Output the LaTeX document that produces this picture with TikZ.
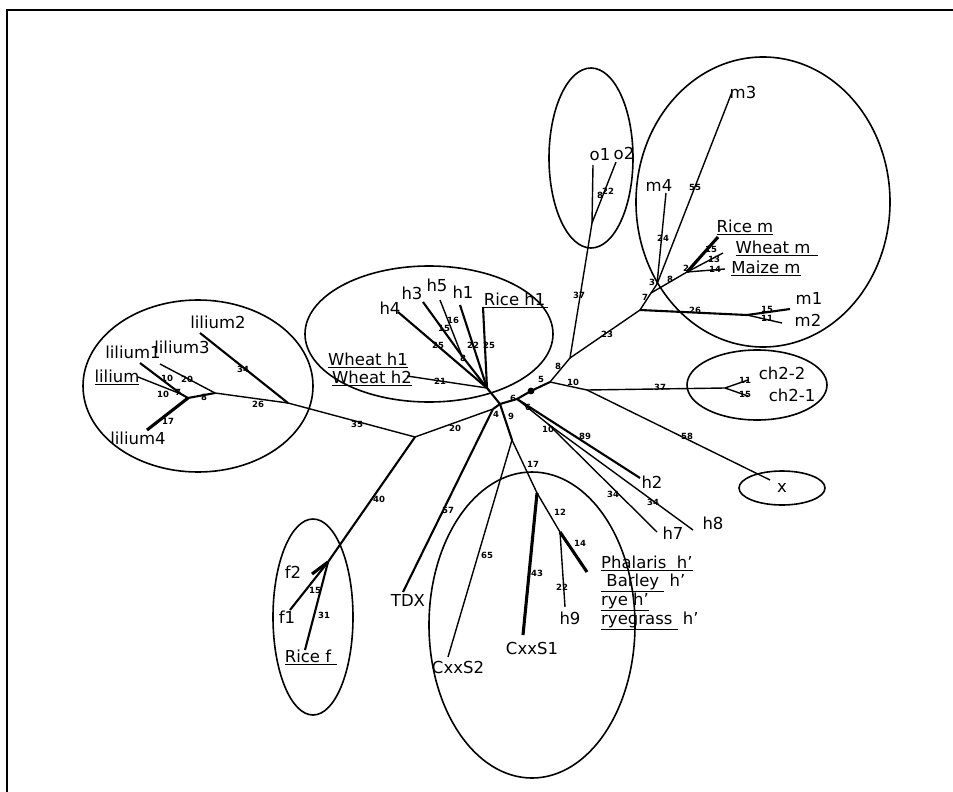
\documentclass[tikz,border=0pt]{standalone}
\usepackage{fontspec}
\setmainfont{DejaVu Sans}
\begin{document}
\begin{tikzpicture}[x=1pt,y=-1pt,
  leaf/.style={font=\fontsize{16.5}{18}\selectfont, inner sep=0pt},
  num/.style={font=\fontsize{8.5}{9}\selectfont\bfseries, inner sep=0pt},
  thin/.style={line width=1.4pt},
  med/.style={line width=2.1pt},
  thk/.style={line width=3.1pt},
  grp/.style={line width=1.6pt}]
\useasboundingbox (0,0) rectangle (953,792);
% frame
\draw[line width=1.5pt] (7,792) -- (7,10) -- (953,10);
% group ellipses
\draw[grp] (198,386) ellipse [x radius=115, y radius=86];
\draw[grp] (429,334) ellipse [x radius=124, y radius=68];
\draw[grp] (591,158) ellipse [x radius=42, y radius=90];
\draw[grp] (763,202) ellipse [x radius=127, y radius=145];
\draw[grp] (757,385) ellipse [x radius=70, y radius=35];
\draw[grp] (782,488) ellipse [x radius=43, y radius=17];
\draw[grp] (532,625) ellipse [x radius=103, y radius=153];
\draw[grp] (313,617) ellipse [x radius=40, y radius=98];
% inner vertices
\coordinate (hA) at (487,388);
\coordinate (hB) at (500,404);
\coordinate (hC) at (493,409);
\coordinate (hD) at (517,399);
\coordinate (hE) at (531,391);
\coordinate (hF) at (550,382);
\coordinate (hG) at (570,358);
\coordinate (chJ) at (587,390);
\coordinate (chK) at (725,388);
\coordinate (oJ) at (592,223);
\coordinate (mR) at (640,310);
\coordinate (m12) at (747,315);
\coordinate (m7) at (651,293);
\coordinate (m34) at (657,284);
\coordinate (mRWM) at (687,272);
\coordinate (h35) at (462,356);
\coordinate (n10) at (548,424);
\coordinate (cx9) at (512,440);
\coordinate (cx17) at (537,493);
\coordinate (cx12) at (560,532);
\coordinate (J) at (415,437);
\coordinate (La) at (288,403);
\coordinate (Lb) at (215,393);
\coordinate (Lc) at (188,398);
\coordinate (Ld) at (181,394);
\coordinate (fN) at (328,562);
% leaf ends
\coordinate (eL2) at (200,333);
\coordinate (eL3) at (160,364);
\coordinate (eL1) at (140,363);
\coordinate (eL) at (138,377);
\coordinate (eL4) at (147,430);
\coordinate (eh4) at (398,312);
\coordinate (eh3) at (423,302);
\coordinate (eh5) at (440,300);
\coordinate (eh1) at (460,305);
\coordinate (eRh1) at (483,307);
\coordinate (eWh) at (407,376);
\coordinate (eo1) at (593,165);
\coordinate (eo2) at (616,162);
\coordinate (em3) at (732,92);
\coordinate (em4) at (666,193);
\coordinate (eRm) at (718,237);
\coordinate (eWm) at (723,253);
\coordinate (eMm) at (725,269);
\coordinate (em1) at (790,309);
\coordinate (em2) at (782,323);
\coordinate (ec22) at (748,380);
\coordinate (ec21) at (748,396);
\coordinate (ex) at (770,480);
\coordinate (eh2) at (640,478);
\coordinate (eh7) at (657,532);
\coordinate (eh8) at (693,530);
\coordinate (eh9) at (565,607);
\coordinate (ePh) at (587,572);
\coordinate (eC1) at (523,635);
\coordinate (eC2) at (448,657);
\coordinate (eTDX) at (403,592);
\coordinate (ef2) at (312,574);
\coordinate (ef1) at (290,610);
\coordinate (eRf) at (305,650);
% hub
\draw[med] (hA) -- (hB);
\draw[med] (hB) -- (hC);
\draw[med] (hB) -- (hD);
\draw[med] (hD) -- (hE);
\draw[med] (hE) -- (hF);
\fill (hE) circle (3.4);
\draw[thin] (hF) -- (chJ);
\draw[thin] (hF) -- (hG);
\draw[thin] (chJ) -- (chK);
\draw[thin] (chJ) -- (ex);
\draw[thin] (chK) -- (ec22);
\draw[thin] (chK) -- (ec21);
% o and m
\draw[thin] (hG) -- (oJ);
\draw[thin] (oJ) -- (eo1);
\draw[thin] (oJ) -- (eo2);
\draw[thin] (hG) -- (mR);
\draw[med] (mR) -- (m12);
\draw[med] (m12) -- (em1);
\draw[thin] (m12) -- (em2);
\draw[thin] (mR) -- (m7);
\draw[thin] (m7) -- (m34);
\draw[thin] (m34) -- (em4);
\draw[thin] (m34) -- (em3);
\draw[thin] (m7) -- (mRWM);
\draw[thk] (mRWM) -- (eRm);
\draw[thin] (mRWM) -- (eWm);
\draw[thin] (mRWM) -- (eMm);
% h cluster
\draw[med] (hA) -- (eh4);
\draw[med] (hA) -- (h35);
\draw[med] (h35) -- (eh3);
\draw[thin] (h35) -- (eh5);
\draw[med] (hA) -- (eh1);
\draw[med] (hA) -- (eRh1);
\draw[thin] (hA) -- (eWh);
% h2 h7 h8
\draw[med] (hD) -- (eh2);
\draw[thin] (hD) -- (n10);
\draw[thin] (n10) -- (eh7);
\draw[thin] (n10) -- (eh8);
% CxxS
\draw[med] (hB) -- (cx9);
\draw[thin] (cx9) -- (eC2);
\draw[thin] (cx9) -- (cx17);
\draw[thk] (cx17) -- (eC1);
\draw[thin] (cx17) -- (cx12);
\draw[thin] (cx12) -- (eh9);
\draw[thk] (cx12) -- (ePh);
% TDX, lilium, f
\draw[med] (hC) -- (eTDX);
\draw[thin] (hC) -- (J);
\draw[thin] (J) -- (La);
\draw[med] (J) -- (fN);
\draw[med] (La) -- (eL2);
\draw[thin] (La) -- (Lb);
\draw[thin] (Lb) -- (eL3);
\draw[med] (Lb) -- (Lc);
\draw[thk] (Lc) -- (eL4);
\draw[med] (Lc) -- (Ld);
\draw[med] (Ld) -- (eL1);
\draw[thin] (Ld) -- (eL);
\draw[thk] (fN) -- (ef2);
\draw[med] (fN) -- (ef1);
\draw[med] (fN) -- (eRf);
% branch numbers
\node[num] (b1) at (258,404) {26};
\node[num] (b2) at (243,369) {34};
\node[num] (b3) at (187,379) {20};
\node[num] (b4) at (204,397) {8};
\node[num] (b5) at (168,421) {17};
\node[num] (b6) at (178,392) {7};
\node[num] (b7) at (167,378) {10};
\node[num] (b8) at (163,394) {10};
\node[num] (b9) at (357,424) {35};
\node[num] (b10) at (455,428) {20};
\node[num] (b11) at (379,499) {40};
\node[num] (b12) at (315,590) {15};
\node[num] (b13) at (324,615) {31};
\node[num] (b14) at (448,510) {57};
\node[num] (b15) at (496,414) {4};
\node[num] (b16) at (511,416) {9};
\node[num] (b17) at (487,555) {65};
\node[num] (b18) at (533,464) {17};
\node[num] (b19) at (537,573) {43};
\node[num] (b20) at (560,512) {12};
\node[num] (b21) at (562,587) {22};
\node[num] (b22) at (580,543) {14};
\node[num] (b23) at (548,429) {10};
\node[num] (b24) at (585,436) {89};
\node[num] (b25) at (613,494) {34};
\node[num] (b26) at (653,502) {34};
\node[num] (b27) at (513,398) {6};
\node[num] (b28) at (528,407) {6};
\node[num] (b29) at (541,379) {5};
\node[num] (b30) at (558,366) {8};
\node[num] (b31) at (573,382) {10};
\node[num] (b32) at (660,387) {37};
\node[num] (b33) at (687,436) {58};
\node[num] (b34) at (745,380) {11};
\node[num] (b35) at (745,394) {15};
\node[num] (b36) at (579,295) {37};
\node[num] (b37) at (607,334) {23};
\node[num] (b38) at (600,195) {8};
\node[num] (b39) at (608,191) {22};
\node[num] (b40) at (695,310) {26};
\node[num] (b41) at (767,309) {15};
\node[num] (b42) at (767,318) {11};
\node[num] (b43) at (645,297) {7};
\node[num] (b44) at (652,282) {3};
\node[num] (b45) at (670,279) {8};
\node[num] (b46) at (663,238) {24};
\node[num] (b47) at (695,187) {55};
\node[num] (b48) at (686,268) {2};
\node[num] (b49) at (711,249) {15};
\node[num] (b50) at (714,259) {13};
\node[num] (b51) at (715,269) {14};
\node[num] (b52) at (438,345) {25};
\node[num] (b53) at (444,328) {15};
\node[num] (b54) at (453,320) {16};
\node[num] (b55) at (463,358) {8};
\node[num] (b56) at (473,345) {22};
\node[num] (b57) at (489,345) {25};
\node[num] (b58) at (440,381) {21};
% leaf labels
\node[leaf] (tL2) at (218,322) {lilium2};
\node[leaf] (tL3) at (182,347) {lilium3};
\node[leaf] (tL1) at (133,352) {lilium1};
\node[leaf] (tL) at (117,377) {\underline{lilium}};
\node[leaf] (tL4) at (138,438) {lilium4};
\node[leaf] (th4) at (390,308) {h4};
\node[leaf] (th3) at (412,293) {h3};
\node[leaf] (th5) at (437,285) {h5};
\node[leaf] (th1) at (463,292) {h1};
\node[leaf] (tRh1) at (516,300) {\underline{Rice h1\,}};
\node[leaf] (tWh1) at (368,360) {\underline{Wheat h1}};
\node[leaf] (tWh2) at (372,378) {\underline{Wheat h2}};
\node[leaf] (to1) at (600,155) {o1};
\node[leaf] (to2) at (624,153) {o2};
\node[leaf] (tm3) at (743,92) {m3};
\node[leaf] (tm4) at (659,185) {m4};
\node[leaf] (tRm) at (745,227) {\underline{Rice m}};
\node[leaf] (tWm) at (777,248) {\underline{Wheat m\hspace{8pt}}};
\node[leaf] (tMm) at (766,268) {\underline{Maize m}};
\node[leaf] (tm1) at (809,298) {m1};
\node[leaf] (tm2) at (808,320) {m2};
\node[leaf] (tc22) at (782,373) {ch2-2};
\node[leaf] (tc21) at (792,395) {ch2-1};
\node[leaf] (tx) at (782,488) {x};
\node[leaf] (th2) at (652,482) {h2};
\node[leaf] (th7) at (673,533) {h7};
\node[leaf] (th8) at (713,523) {h8};
\node[leaf, anchor=west] (tPh) at (601,563) {\underline{Phalaris\ \ h'}};
\node[leaf, anchor=west] (tBa) at (601,583) {\underline{\ Barley\ }\ h'};
\node[leaf, anchor=west] (trye) at (601,602) {\underline{rye h'}};
\node[leaf, anchor=west] (tryg) at (601,621) {\underline{ryegrass\ }\ h'};
\node[leaf] (th9) at (570,618) {h9};
\node[leaf] (tC1) at (532,648) {CxxS1};
\node[leaf] (tC2) at (458,667) {CxxS2};
\node[leaf] (tTDX) at (408,600) {TDX};
\node[leaf] (tf2) at (293,572) {f2};
\node[leaf] (tf1) at (287,617) {f1};
\node[leaf] (tRf) at (311,657) {\underline{Rice f\hspace{6pt}}};
\end{tikzpicture}
\end{document}
